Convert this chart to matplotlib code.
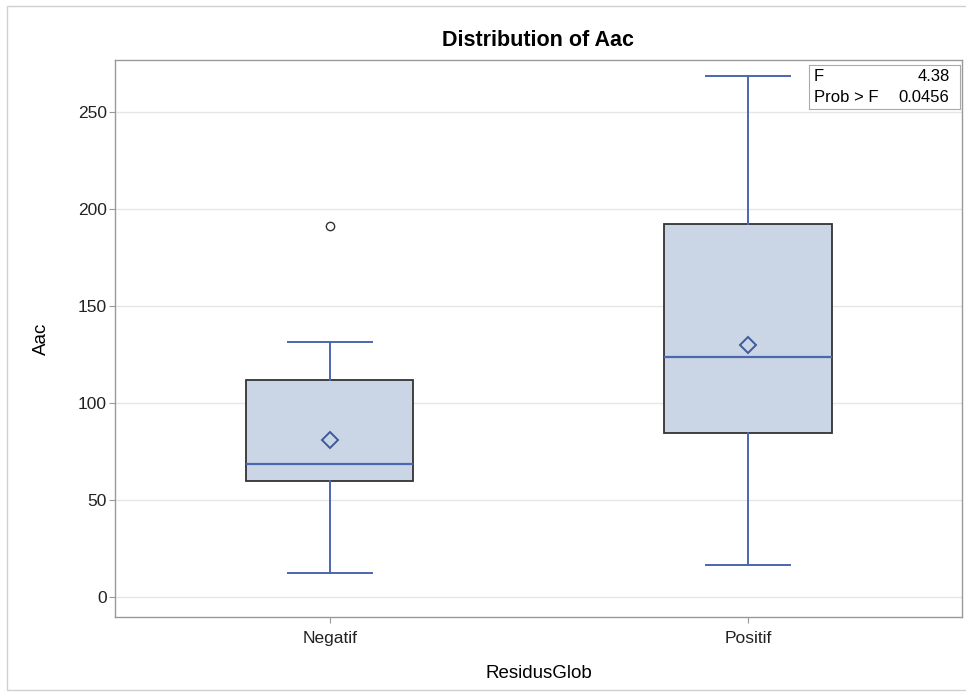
import matplotlib
matplotlib.use('Agg')
import matplotlib.pyplot as plt
from matplotlib.patches import Rectangle

plt.rcParams['font.family'] = ['Liberation Sans', 'DejaVu Sans']

# data
groups = ['Negatif', 'Positif']
whisker_lo = [12.4, 16.5]
q1 = [59.8, 84.5]
medians = [68.6, 123.7]
q3 = [111.9, 192.3]
whisker_hi = [131.4, 268.6]
means = [80.9, 129.9]
outliers = [[191.2], []]
y_ticks = [0, 50, 100, 150, 200, 250]
f_value = '4.38'
p_value = '0.0456'

FILL = '#cad5e6'
BLUE = '#4a67b0'
EDGE = '#333333'

fig = plt.figure(figsize=(9.66, 6.94), dpi=100)
ax = fig.add_axes([115 / 966, 1 - 617 / 694, (962 - 115) / 966, (617 - 60) / 694])

# outer light frame of the graph
fig.patches.append(Rectangle((7 / 966, 4 / 694), 1.0, 684 / 694, transform=fig.transFigure,
                             fill=False, edgecolor='#d0d0d0', linewidth=1.0))

stats = []
for i, name in enumerate(groups):
    stats.append(dict(label=name, whislo=whisker_lo[i], q1=q1[i], med=medians[i],
                      q3=q3[i], whishi=whisker_hi[i], mean=means[i], fliers=outliers[i]))

ax.bxp(stats, positions=range(len(groups)), widths=0.40, patch_artist=True,
       showmeans=True,
       boxprops=dict(facecolor=FILL, edgecolor=EDGE, linewidth=1.3),
       medianprops=dict(color=BLUE, linewidth=1.6),
       whiskerprops=dict(color=BLUE, linewidth=1.4),
       capprops=dict(color=BLUE, linewidth=1.4),
       capwidths=0.2,
       meanprops=dict(marker='D', markersize=8, markerfacecolor=FILL,
                      markeredgecolor='#3f5a9a', markeredgewidth=1.4),
       flierprops=dict(marker='o', markersize=6, markerfacecolor='none',
                       markeredgecolor=EDGE, markeredgewidth=1.0))

ax.set_xlim(-0.514, 1.512)
ax.set_ylim(-10.3, 276.8)
ax.set_yticks(y_ticks)
ax.yaxis.grid(True, color='#e6e6e6', linewidth=1.0)
ax.set_axisbelow(True)
for s in ax.spines.values():
    s.set_color('#999999')
    s.set_linewidth(1.0)
ax.tick_params(colors='#999999', labelcolor='#222222', labelsize=12.5, length=4)
ax.tick_params(axis='y', pad=2)
ax.tick_params(axis='x', pad=6)

ax.set_title('Distribution of Aac', fontsize=15.5, fontweight='bold', pad=10)
ax.set_ylabel('Aac', fontsize=13.5, labelpad=20)
ax.set_xlabel('ResidusGlob', fontsize=13.5, labelpad=14)

# statistics inset
inset = fig.add_axes([809 / 966, 1 - 109 / 694, 151 / 966, 44 / 694])
inset.set_xticks([])
inset.set_yticks([])
for s in inset.spines.values():
    s.set_color('#aaaaaa')
    s.set_linewidth(0.8)
inset.text(0.03, 0.74, 'F', fontsize=12, va='center', ha='left', transform=inset.transAxes)
inset.text(0.93, 0.74, f_value, fontsize=12, va='center', ha='right', transform=inset.transAxes)
inset.text(0.03, 0.27, 'Prob > F', fontsize=12, va='center', ha='left', transform=inset.transAxes)
inset.text(0.93, 0.27, p_value, fontsize=12, va='center', ha='right', transform=inset.transAxes)

fig.savefig('out.png', dpi=100)
